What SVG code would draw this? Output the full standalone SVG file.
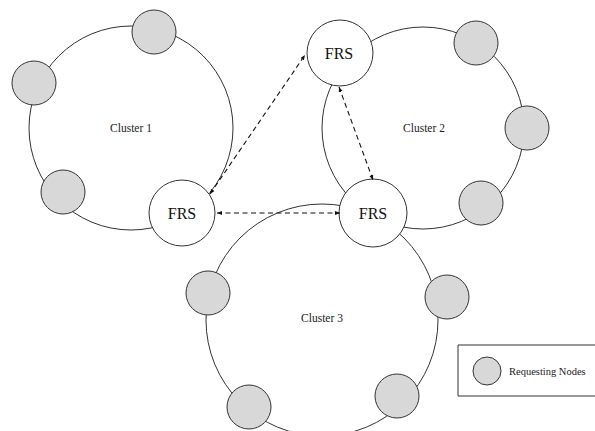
<svg xmlns="http://www.w3.org/2000/svg" width="595" height="431" viewBox="0 0 595 431">
  <defs>
    <style>
      .ring { fill: none; stroke: #333; stroke-width: 1; }
      .req { fill: #d8d8d8; stroke: #333; stroke-width: 1; }
      .frs { fill: #fff; stroke: #333; stroke-width: 1; }
      .link { fill: none; stroke: #111; stroke-width: 1.1; stroke-dasharray: 5 3.5; }
      .frs-label { font-family: "Liberation Serif", "Times New Roman", serif; font-size: 16px; fill: #111; text-anchor: middle; }
      .cl-label { font-family: "Liberation Serif", "Times New Roman", serif; font-size: 11.5px; fill: #222; text-anchor: middle; }
      .lg-label { font-family: "Liberation Serif", "Times New Roman", serif; font-size: 10.5px; fill: #222; }
    </style>
    <marker id="head" viewBox="0 0 10 10" refX="10" refY="5" markerWidth="5" markerHeight="5" orient="auto-start-reverse" markerUnits="userSpaceOnUse">
      <path d="M0,1 L10,5 L0,9 z" fill="#111"/>
    </marker>
  </defs>

  <rect width="595" height="431" fill="#fff"/>

  <!-- cluster rings -->
  <g id="cluster1">
    <circle class="ring" cx="131" cy="128" r="102"/>
    <text class="cl-label" x="131" y="132">Cluster 1</text>
  </g>
  <g id="cluster2">
    <circle class="ring" cx="423" cy="128" r="101"/>
    <text class="cl-label" x="424" y="132">Cluster 2</text>
  </g>
  <g id="cluster3">
    <circle class="ring" cx="322" cy="320" r="116"/>
    <text class="cl-label" x="322" y="322">Cluster 3</text>
  </g>

  <!-- requesting nodes -->
  <g id="req-c1">
    <circle class="req" cx="154" cy="32" r="22"/>
    <circle class="req" cx="34" cy="83" r="22"/>
    <circle class="req" cx="63" cy="192" r="22"/>
  </g>
  <g id="req-c2">
    <circle class="req" cx="476" cy="43" r="22"/>
    <circle class="req" cx="527" cy="128" r="22"/>
    <circle class="req" cx="481" cy="203" r="22"/>
  </g>
  <g id="req-c3">
    <circle class="req" cx="208" cy="293" r="22"/>
    <circle class="req" cx="447" cy="297" r="22"/>
    <circle class="req" cx="249" cy="407" r="22"/>
    <circle class="req" cx="397" cy="396" r="22"/>
  </g>

  <!-- FRS nodes -->
  <g id="frs1">
    <circle class="frs" cx="182" cy="213" r="33"/>
    <text class="frs-label" x="182" y="219">FRS</text>
  </g>
  <g id="frs2">
    <circle class="frs" cx="340" cy="53" r="33"/>
    <text class="frs-label" x="339" y="59">FRS</text>
  </g>
  <g id="frs3">
    <circle class="frs" cx="373" cy="213" r="34"/>
    <text class="frs-label" x="373" y="219">FRS</text>
  </g>

  <!-- dashed links between FRS nodes -->
  <g id="connectors">
    <line class="link" x1="210" y1="194" x2="305" y2="55" marker-start="url(#head)" marker-end="url(#head)"/>
    <line class="link" x1="217" y1="213" x2="340" y2="213" marker-start="url(#head)" marker-end="url(#head)"/>
    <line class="link" x1="339" y1="87" x2="373" y2="180" marker-start="url(#head)" marker-end="url(#head)"/>
  </g>

  <!-- legend -->
  <g id="legend">
    <path d="M600,345 L458,345 L458,396 L600,396" fill="#fff" stroke="#333" stroke-width="1"/>
    <circle class="req" cx="487" cy="371" r="14"/>
    <text class="lg-label" x="509" y="375">Requesting Nodes</text>
  </g>
</svg>
